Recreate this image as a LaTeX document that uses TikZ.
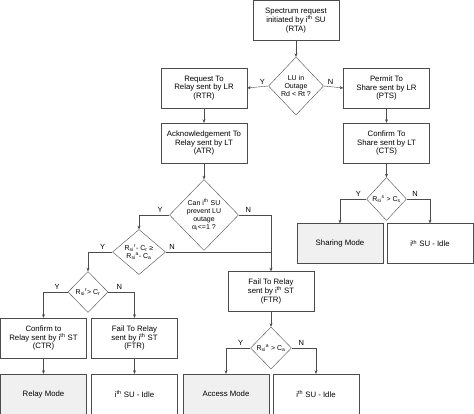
\documentclass[tikz,border=0pt]{standalone}
\usepackage{fontspec}
\setmainfont{Liberation Sans}
\usetikzlibrary{shapes.geometric,arrows.meta}
\newcommand{\Rsi}[1]{R\textsubscript{si}\textsuperscript{#1}}
\newcommand{\ith}{i\textsuperscript{th}}
\tikzset{
  stepbox/.style={draw=black!70,rectangle,minimum width=86pt,minimum height=40pt,
    align=center,inner sep=1pt,font=\fontsize{7.8}{8.6}\selectfont},
  modebox/.style={stepbox,fill=black!6},
  test/.style={draw=black!70,diamond,aspect=1,inner sep=0pt,align=center,
    font=\fontsize{7}{8}\selectfont},
  flow/.style={draw=black!70,-{Stealth[length=3.5pt,width=3pt]}},
  yn/.style={above,inner sep=2pt,font=\fontsize{7.5}{8}\selectfont}
}
\begin{document}
\begin{tikzpicture}[x=1pt,y=-1pt]
    \useasboundingbox (0,0) rectangle (474,414);
    %% Request
    \node[stepbox] (rta) at (296,20.5) {Spectrum request\\initiated by \ith\ SU\\(RTA)};
    \node[test,minimum width=55pt,minimum height=58pt] (outage) at (296,86) {LU in\\Outage\\Rd < Rt ?};
    \node[stepbox] (rtr) at (204,88) {Request To\\Relay sent by LR\\(RTR)};
    \node[stepbox] (pts) at (386.5,88) {Permit To\\Share sent by LR\\(PTS)};
    \node[stepbox] (atr) at (204,143) {Acknowledgement To\\Relay sent by LT\\(ATR)};
    \node[stepbox] (cts) at (386.5,143) {Confirm To\\Share sent by LT\\(CTS)};
    %% Relay branch
    \node[test,minimum width=69pt,minimum height=71pt] (prevent) at (204,215) {Can \ith\ SU\\prevent LU\\outage\\α\textsubscript{i}<=1 ?};
    \node[test,minimum width=53pt,minimum height=45pt] (gain) at (139,252) {\Rsi{r}- C\textsubscript{r} ≥\\\Rsi{a}- C\textsubscript{a}};
    \node[test,minimum width=40pt,minimum height=41pt] (relaycap) at (88,292) {\Rsi{r}> C\textsubscript{r}};
    \node[stepbox] (ctr) at (43.5,338) {Confirm to\\Relay sent by \ith\ ST\\(CTR)};
    \node[stepbox] (ftrl) at (134.5,338) {Fail To Relay\\sent by \ith\ ST\\(FTR)};
    \node[modebox] (relay) at (43.5,394) {Relay Mode};
    \node[stepbox] (idlel) at (134.5,394) {\ith\ SU - Idle};
    %% Access branch
    \node[stepbox] (ftrm) at (271,291.5) {Fail To Relay\\sent by \ith\ ST\\(FTR)};
    \node[test,minimum width=41pt,minimum height=42pt] (accesscap) at (271,348) {\Rsi{a} > C\textsubscript{a}};
    \node[modebox] (access) at (226,394) {Access Mode};
    \node[stepbox] (idlem) at (316,394) {\ith\ SU - Idle};
    %% Sharing branch
    \node[test,minimum width=40pt,minimum height=43pt] (sharecap) at (386.5,199) {\Rsi{s} > C\textsubscript{s}};
    \node[modebox] (sharing) at (340,243.5) {Sharing Mode};
    \node[stepbox] (idler) at (430,243.5) {\ith\ SU - Idle};
    %% Connectors
    \draw[flow] (rta) -- (outage);
    \draw[flow] (outage.west) -- (rtr.east) node[yn,pos=.28] {Y};
    \draw[flow] (outage.east) -- (pts.west) node[yn,pos=.35] {N};
    \draw[flow] (rtr) -- (atr);
    \draw[flow] (pts) -- (cts);
    \draw[flow] (atr) -- (prevent);
    \draw[flow] (prevent.west) -| (gain.north) node[yn,pos=.15] {Y};
    \draw[flow] (prevent.east) -| (ftrm.north) node[yn,pos=.15] {N};
    \draw[draw=black!70] (gain.east) -- (gain.east -| ftrm.north) node[yn,pos=.06] {N};
    \draw[flow] (gain.west) -| (relaycap.north) node[yn,pos=.2] {Y};
    \draw[flow] (relaycap.west) -| (ctr.north) node[yn,pos=.22] {Y};
    \draw[flow] (relaycap.east) -| (ftrl.north) node[yn,pos=.21] {N};
    \draw[flow] (ctr) -- (relay);
    \draw[flow] (ftrl) -- (idlel);
    \draw[flow] (ftrm) -- (accesscap);
    \draw[flow] (accesscap.west) -| (access.north) node[yn,pos=.2] {Y};
    \draw[flow] (accesscap.east) -| (idlem.north) node[yn,pos=.2] {N};
    \draw[flow] (cts) -- (sharecap);
    \draw[flow] (sharecap.west) -| (sharing.north) node[yn,pos=.15] {Y};
    \draw[flow] (sharecap.east) -| (idler.north) node[yn,pos=.18] {N};
\end{tikzpicture}
\end{document}
